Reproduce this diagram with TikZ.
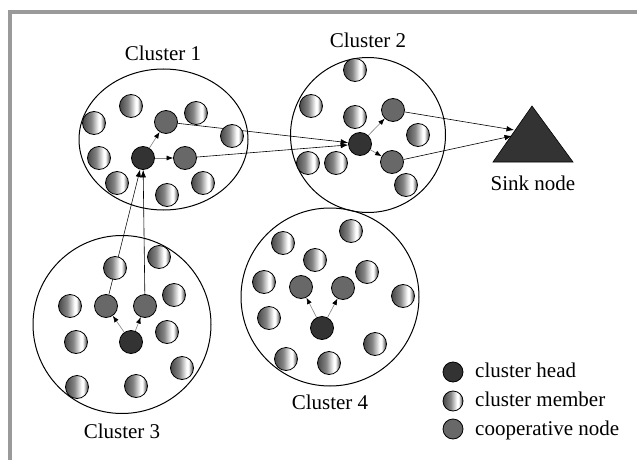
\documentclass[tikz,border=0pt]{standalone}
\usepackage{fontspec}
\setmainfont{Liberation Serif}
\usetikzlibrary{arrows.meta}
\pgfdeclarelayer{bg}
\pgfsetlayers{bg,main}
\definecolor{headc}{HTML}{333333}
\definecolor{coopc}{HTML}{686868}
\definecolor{gA}{HTML}{484848}
\definecolor{gB}{HTML}{858585}
\definecolor{gC}{HTML}{363636}
\definecolor{framec}{HTML}{9A9A9A}
\pgfdeclarehorizontalshading{memb}{100bp}{color(0bp)=(gA); color(25bp)=(gA); color(44bp)=(gB); color(60bp)=(white); color(64bp)=(white); color(75bp)=(gC); color(100bp)=(gC)}
\tikzset{
  nd/.style={circle, draw=black, line width=0.8pt, minimum size=23pt, inner sep=0pt},
  member/.style={nd, shade, shading=memb},
  head/.style={nd, fill=headc},
  coop/.style={nd, fill=coopc},
  lgd/.style={minimum size=20pt},
  main/.style={-{Latex[length=7.5pt,width=5.5pt]}, line width=0.6pt},
  inner/.style={-{Latex[length=6.5pt,width=5pt,color=black]}, draw=gray, line width=0.6pt},
  clus/.style={line width=1pt},
  lab/.style={font=\fontsize{21}{25}\selectfont, anchor=base, inner sep=0pt},
  ltext/.style={font=\fontsize{21}{25}\selectfont, anchor=base west, inner sep=0pt}
}
\begin{document}
\begin{tikzpicture}[x=1pt,y=-1pt]
\useasboundingbox (0,0) rectangle (637,460);
\draw[framec, line width=4pt] (10,460) -- (10,12) -- (637,12);

% cluster outlines
\begin{pgfonlayer}{bg}
\draw[clus] (163.5,139.5) ellipse [x radius=84.5, y radius=70.5];
\draw[clus] (368,135) circle [radius=77.5];
\draw[clus] (122,324.5) circle [radius=89];
\draw[clus] (330,297) circle [radius=89];
\end{pgfonlayer}

% labels
\node[lab] (l1) at (163,60) {Cluster 1};
\node[lab] (l2) at (368,48) {Cluster 2};
\node[lab] (l3) at (122,438) {Cluster 3};
\node[lab] (l4) at (330,409) {Cluster 4};
\node[lab] (l5) at (533,190) {Sink node};

% cluster 1
\node[member] (c1m1) at (131,106) {};
\node[member] (c1m2) at (94,123) {};
\node[member] (c1m3) at (196,113) {};
\node[member] (c1m4) at (232,136) {};
\node[member] (c1m5) at (99,158) {};
\node[member] (c1m6) at (117,183) {};
\node[member] (c1m7) at (167,195) {};
\node[member] (c1m8) at (203,183) {};
\node[head] (c1h) at (143,158) {};
\node[coop] (c1p) at (166,122) {};
\node[coop] (c1q) at (185,158) {};

% cluster 2
\node[member] (c2m1) at (355,70) {};
\node[member] (c2m2) at (311,106) {};
\node[member] (c2m3) at (355,117) {};
\node[member] (c2m4) at (418,135) {};
\node[member] (c2m5) at (308,163) {};
\node[member] (c2m6) at (336,163) {};
\node[member] (c2m7) at (406,185) {};
\node[head] (c2h) at (360,144) {};
\node[coop] (c2p) at (393,110) {};
\node[coop] (c2q) at (392,162) {};

% cluster 3
\node[member] (c3m1) at (115,268) {};
\node[member] (c3m2) at (159,257) {};
\node[member] (c3m3) at (70,306) {};
\node[member] (c3m4) at (174,295) {};
\node[member] (c3m5) at (76,342) {};
\node[member] (c3m6) at (167,332) {};
\node[member] (c3m7) at (182,368) {};
\node[member] (c3m8) at (77,387) {};
\node[member] (c3m9) at (136,386) {};
\node[head] (c3h) at (131,342) {};
\node[coop] (c3p) at (106,306) {};
\node[coop] (c3q) at (145,306) {};

% cluster 4
\node[member] (c4m1) at (351,231) {};
\node[member] (c4m2) at (283,243) {};
\node[member] (c4m3) at (315,260) {};
\node[member] (c4m4) at (367,272) {};
\node[member] (c4m5) at (264,282) {};
\node[member] (c4m6) at (403,296) {};
\node[member] (c4m7) at (269,318) {};
\node[member] (c4m8) at (375,344) {};
\node[member] (c4m9) at (286,359) {};
\node[member] (c4m10) at (329,363) {};
\node[head] (c4h) at (322,328) {};
\node[coop] (c4p) at (301,287) {};
\node[coop] (c4q) at (343,288) {};

% sink
\filldraw[fill=headc, draw=black, line width=0.6pt] (532,106) -- (573,162) -- (493,162) -- cycle;
\coordinate (s1) at (514,130);
\coordinate (s2) at (512,136);

% legend
\node[head, lgd] (lg1) at (453,372) {};
\node[member, lgd] (lg2) at (453,401) {};
\node[coop, lgd] (lg3) at (453,429) {};
\node[ltext] (t1) at (475,377) {cluster head};
\node[ltext] (t2) at (475,406) {cluster member};
\node[ltext] (t3) at (475,435) {cooperative node};

% connectors
\begin{pgfonlayer}{bg}
\draw[inner] (c1h) -- (c1p);
\draw[inner] (c1h) -- (c1q);
\draw[main] (c1p) -- (c2h);
\draw[main] (c1q) -- (c2h);
\draw[inner] (c2h) -- (c2p);
\draw[inner] (c2h) -- (c2q);
\draw[main] (c2p) -- (s1);
\draw[main] (c2q) -- (s2);
\draw[inner] (c3h) -- (c3p);
\draw[inner] (c3h) -- (c3q);
\draw[main] (c3p) -- (c1h);
\draw[main] (c3q) -- (c1h);
\draw[inner] (c4h) -- (c4p);
\draw[inner] (c4h) -- (c4q);
\end{pgfonlayer}
\end{tikzpicture}
\end{document}
